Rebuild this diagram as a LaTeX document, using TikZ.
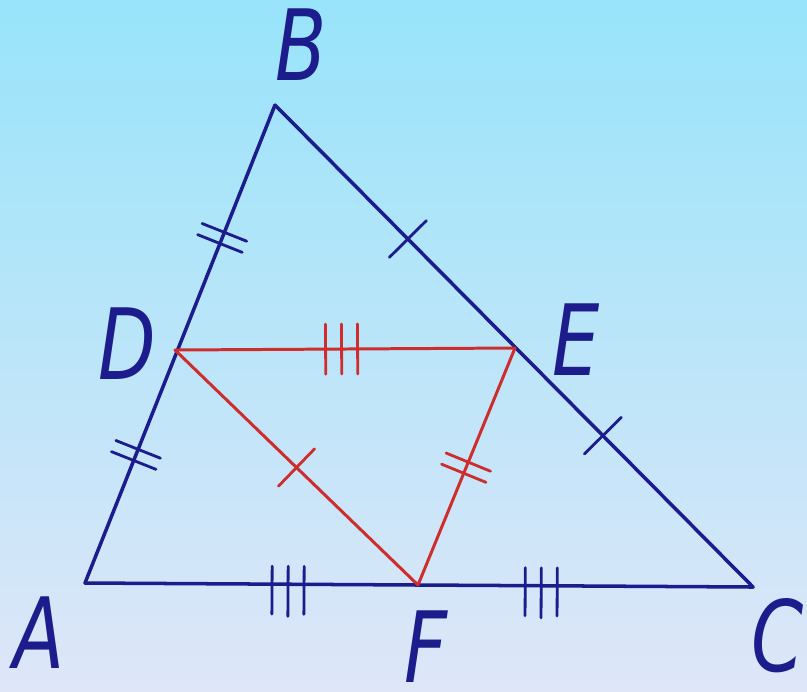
\documentclass[tikz,border=0pt]{standalone}
\usepackage{fontspec}
\usetikzlibrary{decorations.markings}
\newfontfamily\labfont{DejaVu Sans}
\definecolor{navy}{RGB}{28,28,140}
\definecolor{redline}{RGB}{205,45,45}
\definecolor{bgtop}{RGB}{152,228,250}
\definecolor{bgbot}{RGB}{222,230,248}
\begin{document}
\begin{tikzpicture}[x=0.02cm,y=-0.02cm,
  blueseg/.style={draw=navy, line width=2pt, line cap=round, line join=round},
  redseg/.style={draw=redline, line width=1.7pt, line cap=round},
  lab/.style={font=\labfont\itshape\fontsize{56}{56}\selectfont, text=navy, inner sep=0pt},
  tickone/.style 2 args={postaction={decorate,decoration={markings,
      mark=at position #1 with {\draw[#2, line width=1.6pt] (0,-26)--(0,26);}}}},
  ticktwo/.style 2 args={postaction={decorate,decoration={markings,
      mark=at position #1 with {\draw[#2, line width=1.6pt] (-6,-24)--(-6,24) (6,-24)--(6,24);}}}},
  tickthree/.style 2 args={postaction={decorate,decoration={markings,
      mark=at position #1 with {\draw[#2, line width=1.6pt] (-16,-25)--(-16,25) (0,-25)--(0,25) (16,-25)--(16,25);}}}},
  tickthreelow/.style 2 args={postaction={decorate,decoration={markings,
      mark=at position #1 with {\draw[#2, line width=1.6pt] (-16,-18)--(-16,30) (0,-18)--(0,32) (16,-18)--(16,30);}}}}
]
\shade[top color=bgtop, bottom color=bgbot] (0,0) rectangle (807,691);
\useasboundingbox (0,0) rectangle (807,691);

\coordinate (A) at (85,583);
\coordinate (B) at (275,105);
\coordinate (C) at (753,587);
\coordinate (D) at (175,350);
\coordinate (E) at (515,348);
\coordinate (F) at (418,585);

% outer triangle sides
\path[blueseg, ticktwo={0.268}{navy}, ticktwo={0.722}{navy}] (A) -- (B);
\path[blueseg, tickone={0.278}{navy}, tickone={0.686}{navy}] (B) -- (C);
\path[blueseg, tickthreelow={0.304}{navy}, tickthreelow={0.683}{navy}] (A) -- (C);

% medial triangle
\path[redseg, tickthree={0.49}{redline}] (D) -- (E);
\path[redseg, tickone={0.50}{redline}] (D) -- (F);
\path[redseg, ticktwo={0.505}{redline}] (E) -- (F);

% labels
\node[lab] (labB) at (301,45) {\scalebox{0.76}[1]{B}};
\node[lab] (labD) at (127,344) {\scalebox{0.76}[1]{D}};
\node[lab] (labE) at (576,340) {\scalebox{0.76}[1]{E}};
\node[lab] (labA) at (39,633) {\scalebox{0.76}[1]{A}};
\node[lab] (labF) at (426,647) {\scalebox{0.76}[1]{F}};
\node[lab] (labC) at (778,636) {\scalebox{0.76}[1]{C}};
\end{tikzpicture}
\end{document}
